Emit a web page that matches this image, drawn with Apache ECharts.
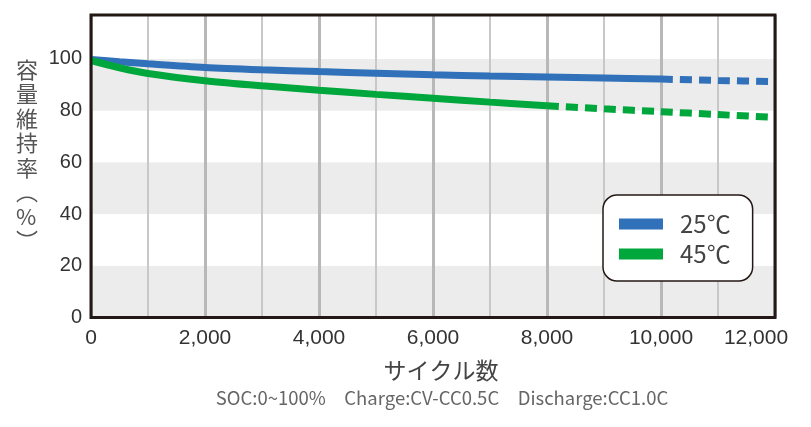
<!DOCTYPE html>
<html><head><meta charset="utf-8">
<script src="https://cdn.jsdelivr.net/npm/echarts@6/dist/echarts.min.js"></script>
<style>html,body{margin:0;padding:0;background:#fff}#c{width:811px;height:427px}</style>
</head><body><div id="c"></div>
<script>
// ---- data ----
const cycles = [0, 500, 1000, 2000, 3000, 4000, 5000, 6000, 7000, 8000, 9000, 10000, 11000, 12000];
const cap25 = [99.8, 98.9, 98.1, 96.7, 95.8, 95.1, 94.5, 93.9, 93.4, 93.0, 92.6, 92.2, 91.7, 91.2];
const cap45 = [99.4, 96.6, 94.4, 91.6, 89.6, 87.9, 86.3, 84.8, 83.3, 81.9, 80.7, 79.6, 78.5, 77.4];
const measuredEnd25 = 10000;   // solid up to here, dashed (projection) after
const measuredEnd45 = 8000;
const seriesNames = ['25℃', '45℃'];
const yAxisTitle = '容\n量\n維\n持\n率\n︵\n%\n︶';
const xAxisTitle = 'サイクル数';
const noteText = 'SOC:0~100%　Charge:CV-CC0.5C　Discharge:CC1.0C';

const C25 = '#3171ba', C45 = '#00a73c';
const pairs = (vals) => cycles.map((c, i) => [c, vals[i]]);
const solid = (vals, end) => pairs(vals).filter(p => p[0] <= end);
const dashed = (vals, end) => pairs(vals).filter(p => p[0] >= end);

const chart = echarts.init(document.getElementById('c'));
const G = {left: 91, top: 15, right: 36, bottom: 109.5};
const X_MAX = 12000;
const lineBase = (name, color, data, dash) => ({
  name, type: 'line', data, smooth: 0.3, showSymbol: false, symbol: 'none',
  itemStyle: {color}, z: 3, animation: false,
  lineStyle: {color, width: 7, type: dash ? [12, 7] : 'solid', cap: 'butt'}
});
chart.setOption({
  animation: false,
  grid: {left: G.left, top: G.top, right: G.right, bottom: G.bottom},
  xAxis: {
    type: 'value', min: 0, max: X_MAX, interval: 2000,
    axisLine: {show: false}, axisTick: {show: false},
    axisLabel: {fontSize: 21, color: '#333', margin: 10, fontFamily: 'Liberation Sans',
      formatter: v => v === X_MAX ? '{last|' + v.toLocaleString('en-US') + '}' : v.toLocaleString('en-US'),
      rich: {last: {fontSize: 21, color: '#333', fontFamily: 'Liberation Sans', padding: [0, 38, 0, 0]}}},
    splitLine: {show: true, lineStyle: {color: '#b8b8b8', width: 3}},
    minorTick: {show: false, splitNumber: 2},
    minorSplitLine: {show: true, lineStyle: {color: '#c8c8c8', width: 2}}
  },
  yAxis: {
    type: 'value', min: 0, max: 117, interval: 20,
    axisLine: {show: false}, axisTick: {show: false},
    axisLabel: {fontSize: 20, color: '#333', margin: 9, fontFamily: 'Liberation Sans', showMaxLabel: false},
    splitLine: {show: false},
    splitArea: {show: true, areaStyle: {color: ['#ebeceb', '#ffffff']}}
  },
  legend: {
    data: seriesNames.map(n => ({name: n, icon: 'rect'})),
    orient: 'vertical', left: 603, top: 195,
    itemWidth: 44, itemHeight: 11, itemGap: 6,
    padding: [17, 22, 15, 16],
    backgroundColor: '#fff', borderColor: '#231815', borderWidth: 1.5, borderRadius: 14,
    textStyle: {fontSize: 24, color: '#444', fontFamily: 'Noto Sans CJK JP', padding: [0, 0, 0, 12]},
    selectedMode: false
  },
  series: [
    lineBase(seriesNames[0], C25, solid(cap25, measuredEnd25), false),
    lineBase(seriesNames[0], C25, dashed(cap25, measuredEnd25), true),
    lineBase(seriesNames[1], C45, solid(cap45, measuredEnd45), false),
    lineBase(seriesNames[1], C45, dashed(cap45, measuredEnd45), true)
  ],
  graphic: [
    {type: 'rect', z: 100, silent: true,
      shape: {x: G.left, y: G.top, width: 811 - G.left - G.right, height: 427 - G.top - G.bottom},
      style: {fill: 'none', stroke: '#231815', lineWidth: 3}},
    {type: 'text', left: 16, top: 57, z: 100,
      style: {text: yAxisTitle, fontSize: 22, lineHeight: 24.5, fill: '#555', align: 'center',
        fontFamily: 'Noto Sans CJK JP'}},
    {type: 'text', z: 100, x: 441, y: 370,
      style: {text: xAxisTitle, fontSize: 23, fill: '#444', align: 'center', verticalAlign: 'middle',
        fontFamily: 'Noto Sans CJK JP'}},
    {type: 'text', z: 100, x: 442, y: 398,
      style: {text: noteText, fontSize: 18.5, fill: '#666', align: 'center', verticalAlign: 'middle',
        fontFamily: 'Noto Sans CJK JP'}}
  ]
});
</script></body></html>
